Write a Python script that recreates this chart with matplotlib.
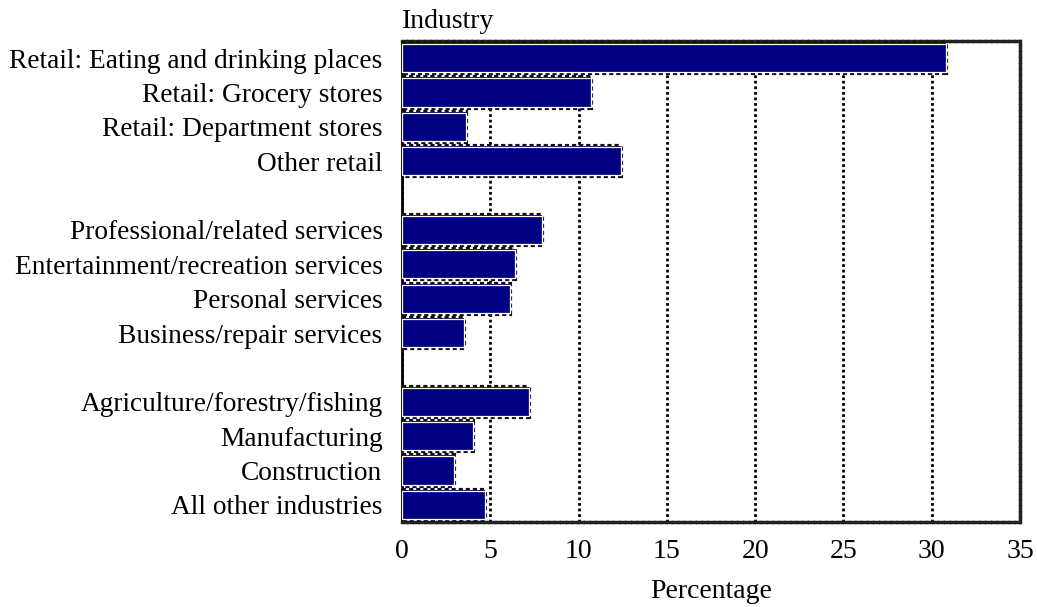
import matplotlib.pyplot as plt
import numpy as np

# %% data
industries = ["Retail: Eating and drinking places", "Retail: Grocery stores",
              "Retail: Department stores", "Other retail", "",
              "Professional/related services", "Entertainment/recreation services",
              "Personal services", "Business/repair services", "",
              "Agriculture/forestry/fishing", "Manufacturing", "Construction",
              "All other industries"]
percentages = [30.8, 10.7, 3.6, 12.4, None,
               7.95, 6.4, 6.1, 3.5, None,
               7.2, 4.0, 2.95, 4.7]
x_ticks = [0, 5, 10, 15, 20, 25, 30, 35]

plt.rcParams['font.family'] = ['Liberation Serif', 'DejaVu Serif']

fig = plt.figure(figsize=(10.37, 6.07), dpi=100)
ax = fig.add_axes([0.3877, 0.14, 0.5959, 0.7925])

pos = np.arange(len(industries))
for p, v in zip(pos, percentages):
    if v is None:
        continue
    # dark dotted outer edge, then white inner edge
    ax.barh(p, v, height=0.88, color='#000080', edgecolor='#111111',
            linewidth=3, linestyle=(0, (1, 0.7)), zorder=3)
    ax.barh(p, v, height=0.82, color='#000080', edgecolor='white',
            linewidth=0.9, zorder=4)

ax.set_xlim(0, 35)
ax.set_ylim(len(industries) - 0.5, -0.5)
ax.set_xticks(x_ticks)
ax.set_xticklabels([str(t) for t in x_ticks], fontsize=20)
ax.set_yticks(pos)
ax.set_yticklabels(industries, fontsize=19.7)
ax.tick_params(axis='both', length=0)
ax.tick_params(axis='y', pad=14)
ax.tick_params(axis='x', pad=12)

ax.grid(axis='x', color='black', linestyle=(0, (1, 1)), linewidth=2, zorder=1)
for side in ['top', 'right', 'bottom']:
    ax.spines[side].set_linestyle((0, (1, 0.7)))
    ax.spines[side].set_linewidth(2.5)
    ax.spines[side].set_color('#222222')
ax.spines['left'].set_linewidth(2)

ax.set_xlabel("Percentage", fontsize=20, labelpad=11)
ax.text(0, -0.7, "Industry", fontsize=20, ha='left', va='bottom')

plt.savefig("out.png", dpi=100)
